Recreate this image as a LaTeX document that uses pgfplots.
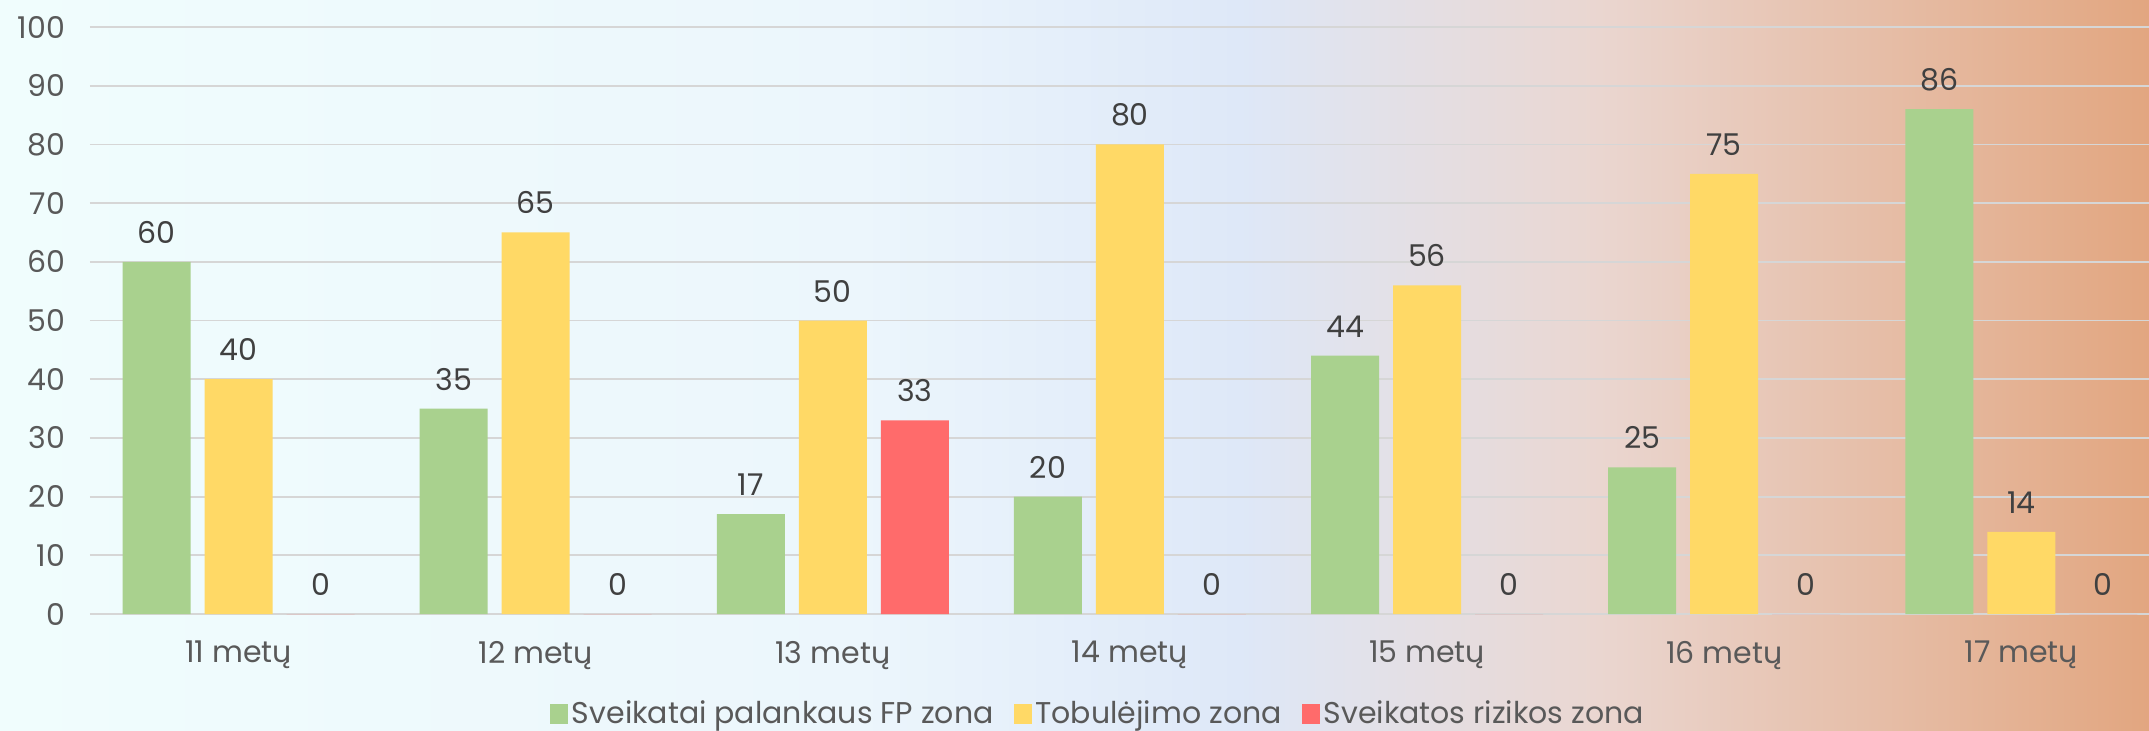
\documentclass[border=0pt]{standalone}
\usepackage{pgfplots}
\pgfplotsset{compat=1.18}
\usepackage{fontspec}
\setmainfont{Poppins}
\definecolor{cgreen}{HTML}{A9D18E}
\definecolor{cyellow}{HTML}{FFD966}
\definecolor{cred}{HTML}{FF6B6B}
\definecolor{ctext}{HTML}{595959}
\definecolor{cval}{HTML}{404040}
\definecolor{bgA}{RGB}{240,253,253}
\definecolor{bgB}{RGB}{236,246,252}
\definecolor{bgC}{RGB}{222,232,248}
\definecolor{bgD}{RGB}{234,214,208}
\definecolor{bgE}{RGB}{226,166,128}
\begin{document}
\begin{tikzpicture}
\path[use as bounding box] (0,0) rectangle (1074.5pt,365pt);
\shade[left color=bgA,right color=bgB,draw=none] (0,0) rectangle (430pt,365pt);
\shade[left color=bgB,right color=bgC,draw=none] (429.5pt,0) rectangle (620pt,365pt);
\shade[left color=bgC,right color=bgD,draw=none] (619.5pt,0) rectangle (800pt,365pt);
\shade[left color=bgD,right color=bgE,draw=none] (799.5pt,0) rectangle (1074.5pt,365pt);
\begin{axis}[
  at={(45pt,58pt)}, anchor=south west,
  scale only axis, width=1029.5pt, height=293.5pt,
  xmin=-0.5, xmax=6.43, ymin=0, ymax=100,
  ytick={0,10,...,100},
  xtick={0,...,6},
  xticklabels={11 metų,12 metų,13 metų,14 metų,15 metų,16 metų,17 metų},
  axis line style={draw=none},
  major tick length=0pt,
  ymajorgrids, grid style={color=black!16, line width=0.9pt},
  tick label style={font=\fontsize{15}{18}\selectfont, color=ctext},
  yticklabel style={xshift=-9pt},
  xticklabel style={yshift=-10pt},
  /pgf/number format/assume math mode=true,
  ybar, bar width=34pt,
  nodes near coords,
  every node near coord/.append style={font=\fontsize{15}{18}\selectfont, color=cval, inner sep=0pt, yshift=9pt, anchor=south},
  legend columns=3,
  legend style={at={(0.49,-0.17)}, anchor=center, draw=none, fill=none,
    font=\fontsize{15}{18}\selectfont, text=ctext,
    /tikz/every even column/.append style={column sep=8pt}},
  legend image code/.code={\fill[#1] (0pt,-5pt) rectangle (9pt,5pt);},
  clip=false,
]
\addplot[fill=cgreen, draw=none, bar shift=-41pt] coordinates {(0,60) (1,35) (2,17) (3,20) (4,44) (5,25) (6,86)};
\addplot[fill=cyellow, draw=none, bar shift=0pt] coordinates {(0,40) (1,65) (2,50) (3,80) (4,56) (5,75) (6,14)};
\addplot[fill=cred, draw=none, bar shift=41pt] coordinates {(0,0) (1,0) (2,33) (3,0) (4,0) (5,0) (6,0)};
\legend{Sveikatai palankaus FP zona, Tobulėjimo zona, Sveikatos rizikos zona}
\end{axis}
\end{tikzpicture}
\end{document}
